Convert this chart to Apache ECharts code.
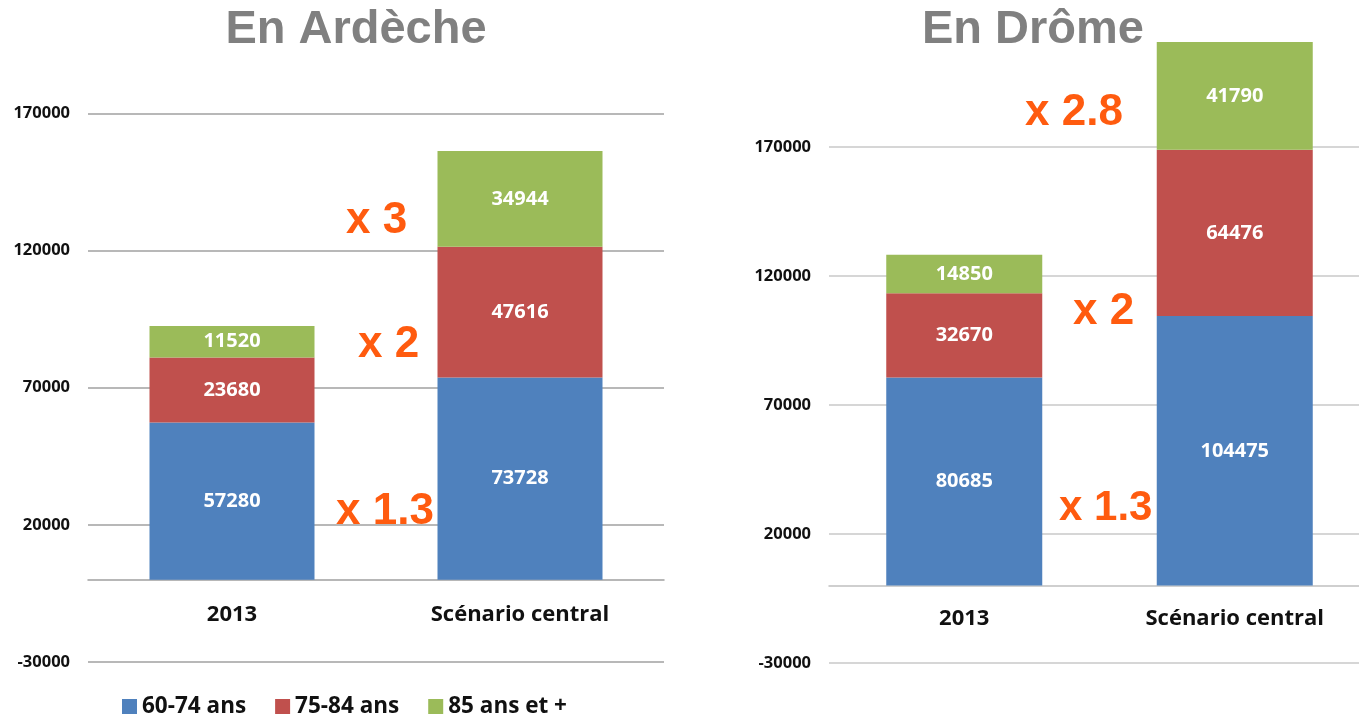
<!DOCTYPE html>
<html>
<head>
<meta charset="utf-8">
<script src="https://cdn.jsdelivr.net/npm/echarts@6/dist/echarts.min.js"></script>
<style>
  html, body { margin: 0; padding: 0; background: #fff; overflow: hidden; }
  #chart { width: 1370px; height: 715px; }
</style>
</head>
<body>
<div id="chart"></div>
<script>
// categories
const categories = ['2013', 'Scénario central'];
const seriesNames = ['60-74 ans', '75-84 ans', '85 ans et +'];

// Ardèche
const ardeche6074 = [57280, 73728];
const ardeche7584 = [23680, 47616];
const ardeche85 = [11520, 34944];

// Drôme
const drome6074 = [80685, 104475];
const drome7584 = [32670, 64476];
const drome85 = [14850, 41790];

// y axis ticks
const yMin = -30000;
const yMaxArdeche = 200000;
const yMaxDrome = 220000;
const yInterval = 50000;

const colors = ['#4F81BD', '#C0504D', '#9BBB59'];
const orange = '#FF5B0F';

var myChart = echarts.init(document.getElementById('chart'));

function valueAxis(gridIndex, max, lineColor) {
  return {
    type: 'value',
    gridIndex: gridIndex,
    min: yMin,
    max: max,
    interval: yInterval,
    axisLine: { show: false },
    axisTick: { show: false },
    axisLabel: {
      showMaxLabel: false,
      margin: 18,
      color: '#111',
      fontFamily: 'Open Sans',
      fontWeight: 'bold',
      fontSize: 16.5,
      formatter: function (v) { return String(v); }
    },
    splitLine: {
      lineStyle: {
        width: 1.5,
        // top line (max) hidden
        color: [lineColor, lineColor, lineColor, lineColor, lineColor, 'rgba(0,0,0,0)']
      }
    }
  };
}

function catAxis(gridIndex, lineColor, margin) {
  return {
    type: 'category',
    gridIndex: gridIndex,
    data: categories,
    axisLine: { onZero: true, lineStyle: { color: lineColor, width: 1.5 } },
    axisTick: { show: false },
    axisLabel: {
      margin: margin,
      color: '#111',
      fontFamily: 'Open Sans',
      fontWeight: 'bold',
      fontSize: 22
    }
  };
}

function barSeries(name, data, idx, xIdx, width) {
  return {
    name: name,
    type: 'bar',
    stack: 'total' + xIdx,
    xAxisIndex: xIdx,
    yAxisIndex: xIdx,
    barWidth: width,
    data: data,
    itemStyle: { color: colors[idx] },
    label: {
      show: true,
      position: 'inside',
      color: '#fff',
      fontFamily: 'Open Sans',
      fontWeight: 'bold',
      fontSize: 20
    }
  };
}

function note(text, x, y, size) {
  return {
    type: 'text',
    left: x,
    top: y,
    z: 100,
    style: {
      text: text,
      fill: orange,
      font: 'bold ' + (size || 44) + 'px "Liberation Sans", Arial, sans-serif'
    }
  };
}

myChart.setOption({
  animation: false,
  title: [
    {
      text: 'En Ardèche',
      left: 351,
      top: 2,
      textAlign: 'center',
      textStyle: { color: '#808080', fontFamily: 'Liberation Sans', fontWeight: 'bold', fontSize: 47 }
    },
    {
      text: 'En Drôme',
      left: 1028,
      top: 2,
      textAlign: 'center',
      textStyle: { color: '#808080', fontFamily: 'Liberation Sans', fontWeight: 'bold', fontSize: 47 }
    }
  ],
  legend: {
    data: seriesNames,
    left: 117,
    top: 690,
    icon: 'rect',
    itemWidth: 15,
    itemHeight: 15,
    itemGap: 29,
    textStyle: { color: '#111', fontFamily: 'Open Sans', fontWeight: 'bold', fontSize: 22.5 }
  },
  grid: [
    { left: 88, width: 576, top: 31, bottom: 53, containLabel: false },
    { left: 829, right: 0, top: 18, bottom: 52, containLabel: false }
  ],
  xAxis: [catAxis(0, '#A0A0A0', -58), catAxis(1, '#C0C0C0', -55)],
  yAxis: [valueAxis(0, yMaxArdeche, '#A0A0A0'), valueAxis(1, yMaxDrome, '#C8C8C8')],
  series: [
    barSeries(seriesNames[0], ardeche6074, 0, 0, 165),
    barSeries(seriesNames[1], ardeche7584, 1, 0, 165),
    barSeries(seriesNames[2], ardeche85, 2, 0, 165),
    barSeries(seriesNames[0], drome6074, 0, 1, 156),
    barSeries(seriesNames[1], drome7584, 1, 1, 156),
    barSeries(seriesNames[2], drome85, 2, 1, 156)
  ],
  graphic: [
    note('x 3', 346, 199),
    note('x 2', 358, 323),
    note('x 1.3', 336, 490),
    note('x 2.8', 1025, 91),
    note('x 2', 1073, 290),
    note('x 1.3', 1059, 487, 42)
  ]
});
</script>
</body>
</html>
